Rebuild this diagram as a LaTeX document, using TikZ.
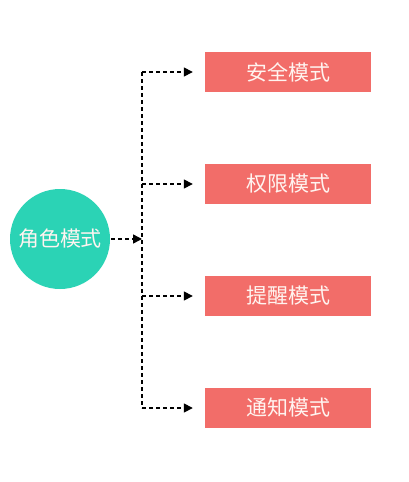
\documentclass[tikz,border=0pt]{standalone}
\usepackage{fontspec}
\newfontfamily\cjk{Noto Sans CJK SC}
\usetikzlibrary{arrows.meta}
\definecolor{teal1}{HTML}{2BD3B5}
\definecolor{red1}{HTML}{F26D69}
\definecolor{txt}{HTML}{FFF4F0}
\tikzset{
  role/.style={circle, fill=teal1, minimum size=100pt, inner sep=0pt, text=txt, font=\cjk\fontsize{21}{22}\selectfont},
  modebox/.style={rectangle, fill=red1, minimum width=166pt, minimum height=40pt, inner sep=0pt, text=txt, font=\cjk\fontsize{21}{22}\selectfont},
  link/.style={line width=1.5pt, dash pattern=on 4pt off 3pt},
  arrowlink/.style={link, -{Triangle[length=9pt,width=9pt]}},
}
\begin{document}
\begin{tikzpicture}[x=1pt,y=-1pt]
\useasboundingbox[fill=white] (0,0) rectangle (408,482);
\node[role] (r) at (60,239) {角色模式};
\node[modebox] (b1) at (288,72) {安全模式};
\node[modebox] (b2) at (288,184) {权限模式};
\node[modebox] (b3) at (288,296) {提醒模式};
\node[modebox] (b4) at (288,408) {通知模式};
\coordinate (j) at (142,239);
\coordinate (j1) at (142,72);
\coordinate (j2) at (142,184);
\coordinate (j3) at (142,296);
\coordinate (j4) at (142,408);
\draw[link] (j1) -- (j4);
\draw[arrowlink, shorten <=1pt] (r.east) -- (j);
\foreach \i in {1,2,3,4}{
  \draw[arrowlink, shorten >=12pt] (j\i) -- (b\i.west);
}
\end{tikzpicture}
\end{document}
